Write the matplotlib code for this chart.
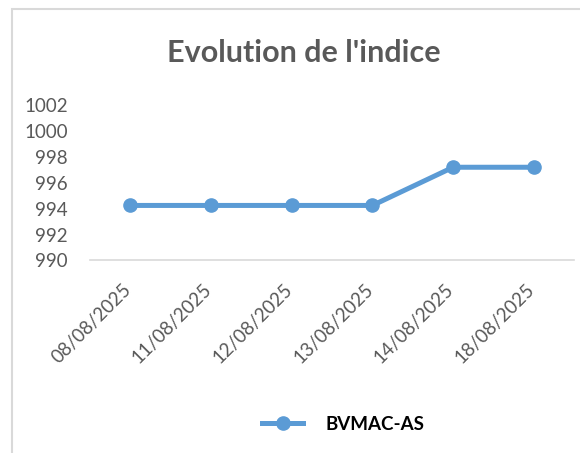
import numpy as np
import matplotlib.pyplot as plt
import matplotlib.transforms as mtransforms
from matplotlib.patches import Rectangle

dates = ["08/08/2025", "11/08/2025", "12/08/2025", "13/08/2025", "14/08/2025", "18/08/2025"]
indice = [994.25, 994.25, 994.25, 994.25, 997.2, 997.2]
yticks = [990, 992, 994, 996, 998, 1000, 1002]

plt.rcParams['font.family'] = ['Lato', 'DejaVu Sans']

fig = plt.figure(figsize=(5.8, 4.53), dpi=100)
ax = fig.add_axes([0.155, 0.425, 0.835, 0.343])

# chart frame (light gray border like the spreadsheet chart)
fig.patches.append(Rectangle((12/580, -0.1), 1.2, 1 - 9/453 + 0.1, transform=fig.transFigure,
                             fill=False, edgecolor='#d9d9d9', linewidth=1.5))

color = '#5B9BD5'
x = np.arange(len(dates))
ax.plot(x, indice, color=color, linewidth=3.6, marker='o', markersize=9.5, label='BVMAC-AS')

ax.set_xlim(-0.5, len(dates) - 0.5)
ax.set_ylim(990, 1002)
ax.set_yticks(yticks)
ax.set_xticks(x)
ax.set_xticklabels(dates, rotation=45, ha='right', va='center', rotation_mode='anchor')
ax.tick_params(axis='both', length=0, labelsize=13.5, labelcolor='#595959')
ax.tick_params(axis='y', pad=16)
ax.tick_params(axis='x', pad=19)
offset = mtransforms.ScaledTranslation(-1.5/72, 0, fig.dpi_scale_trans)
for lab in ax.get_xticklabels():
    lab.set_transform(lab.get_transform() + offset)

for s in ['top', 'right', 'left']:
    ax.spines[s].set_visible(False)
ax.spines['bottom'].set_color('#d9d9d9')
ax.spines['bottom'].set_linewidth(1.2)

fig.text(0.524, 0.884, "Evolution de l'indice", ha='center', va='center',
         fontsize=22, fontweight='bold', color='#595959')

leg = fig.legend(loc='center', bbox_to_anchor=(0.592, 0.063), frameon=False,
                 prop={'weight': 'bold', 'size': 13.5}, handlelength=2.2, handletextpad=1.2)

plt.savefig('out.png', dpi=100)
